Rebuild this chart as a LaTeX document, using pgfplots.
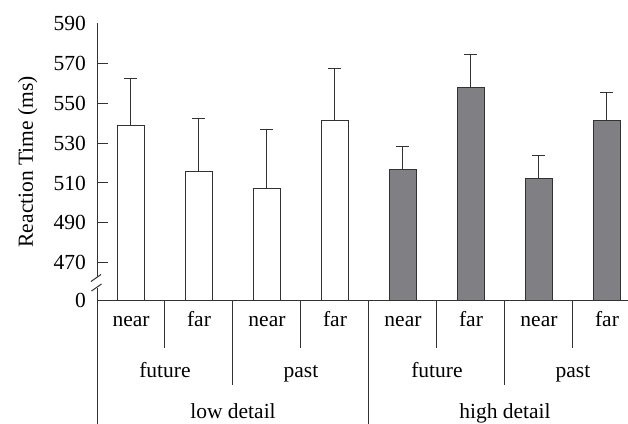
\documentclass[border=0pt]{standalone}
\usepackage{fontspec}
\setmainfont{Liberation Serif}
\usepackage{pgfplots}
\pgfplotsset{compat=1.18}
\definecolor{barfill}{RGB}{128,128,132}
\definecolor{edge}{RGB}{50,50,50}
\begin{document}
\begin{tikzpicture}[font=\fontsize{21.5}{25}\selectfont]
\begin{axis}[
  name=ax, at={(0,0)}, anchor=south west,
  scale only axis, width=531pt, height=276.5pt,
  xmin=-0.5, xmax=7.309, ymin=451.3, ymax=590,
  axis lines*=left,
  y axis line style={draw=none},
  x axis line style={draw=edge, line width=1pt},
  clip mode=individual,
  /pgf/number format/assume math mode=true,
  tick align=inside,
  ytick={470,490,...,570},
  ytick style={draw=edge, line width=1pt},
  major tick length=10.7pt,
  extra y ticks={451.3,590},
  extra y tick labels={0,590},
  extra y tick style={major tick length=0pt},
  yticklabel style={inner sep=0pt, xshift=-11pt},
  xtick={0,...,7},
  xticklabels={near,far,near,far,near,far,near,far},
  xtick style={draw=none},
  xticklabel style={anchor=base, inner sep=0pt, yshift=-26pt},
  ylabel={Reaction Time (ms)},
  ylabel style={at={(axis description cs:-0.12053,0.5)}, anchor=base},
]
\addplot[ybar, bar width=26.5pt, bar shift=0pt, fill=white, draw=edge, line width=1pt,
  error bars/.cd, y dir=plus, y explicit,
  error bar style={draw=edge, line width=1pt},
  error mark options={rotate=90, mark size=6.5pt, draw=edge, line width=1pt}]
  coordinates {(0,538.7) +- (0,23.7) (1,516.0) +- (0,26.1) (2,507.4) +- (0,29.3) (3,541.2) +- (0,26.0)};
\addplot[ybar, bar width=26.5pt, bar shift=0pt, fill=barfill, draw=edge, line width=1pt,
  error bars/.cd, y dir=plus, y explicit,
  error bar style={draw=edge, line width=1pt},
  error mark options={rotate=90, mark size=6.5pt, draw=edge, line width=1pt}]
  coordinates {(4,517.0) +- (0,11.5) (5,558.0) +- (0,16.4) (6,512.2) +- (0,11.6) (7,541.2) +- (0,14.1)};
% category separators
\draw[edge, line width=1pt] (axis cs:0.5,451.3) -- ([yshift=-48pt]axis cs:0.5,451.3);
\draw[edge, line width=1pt] (axis cs:2.5,451.3) -- ([yshift=-48pt]axis cs:2.5,451.3);
\draw[edge, line width=1pt] (axis cs:4.5,451.3) -- ([yshift=-48pt]axis cs:4.5,451.3);
\draw[edge, line width=1pt] (axis cs:6.5,451.3) -- ([yshift=-48pt]axis cs:6.5,451.3);
\draw[edge, line width=1pt] (axis cs:1.5,451.3) -- ([yshift=-85pt]axis cs:1.5,451.3);
\draw[edge, line width=1pt] (axis cs:5.5,451.3) -- ([yshift=-85pt]axis cs:5.5,451.3);
\draw[edge, line width=1pt] (axis cs:3.5,451.3) -- ([yshift=-124pt]axis cs:3.5,451.3);
% group labels
\node[anchor=base] at ([yshift=-77pt]axis cs:0.5,451.3) {future};
\node[anchor=base] at ([yshift=-77pt]axis cs:2.5,451.3) {past};
\node[anchor=base] at ([yshift=-77pt]axis cs:4.5,451.3) {future};
\node[anchor=base] at ([yshift=-77pt]axis cs:6.5,451.3) {past};
\node[anchor=base] at ([yshift=-118pt]axis cs:1.5,451.3) {low detail};
\node[anchor=base] at ([yshift=-118pt]axis cs:5.5,451.3) {high detail};
\end{axis}
% left axis with break
\draw[edge, line width=1pt] (ax.north west) -- ([yshift=23pt]ax.south west);
\draw[edge, line width=1pt] ([yshift=12pt]ax.south west) -- ([yshift=-124pt]ax.south west);
\draw[edge, line width=1pt] ([xshift=-6pt,yshift=18.5pt]ax.south west) -- ++(10pt,7pt);
\draw[edge, line width=1pt] ([xshift=-5.5pt,yshift=9pt]ax.south west) -- ++(10pt,7pt);
\pgfresetboundingbox
\path[use as bounding box] ([xshift=-97pt,yshift=-123pt]ax.south west) rectangle ([xshift=531pt,yshift=300pt]ax.south west);
\end{tikzpicture}
\end{document}
